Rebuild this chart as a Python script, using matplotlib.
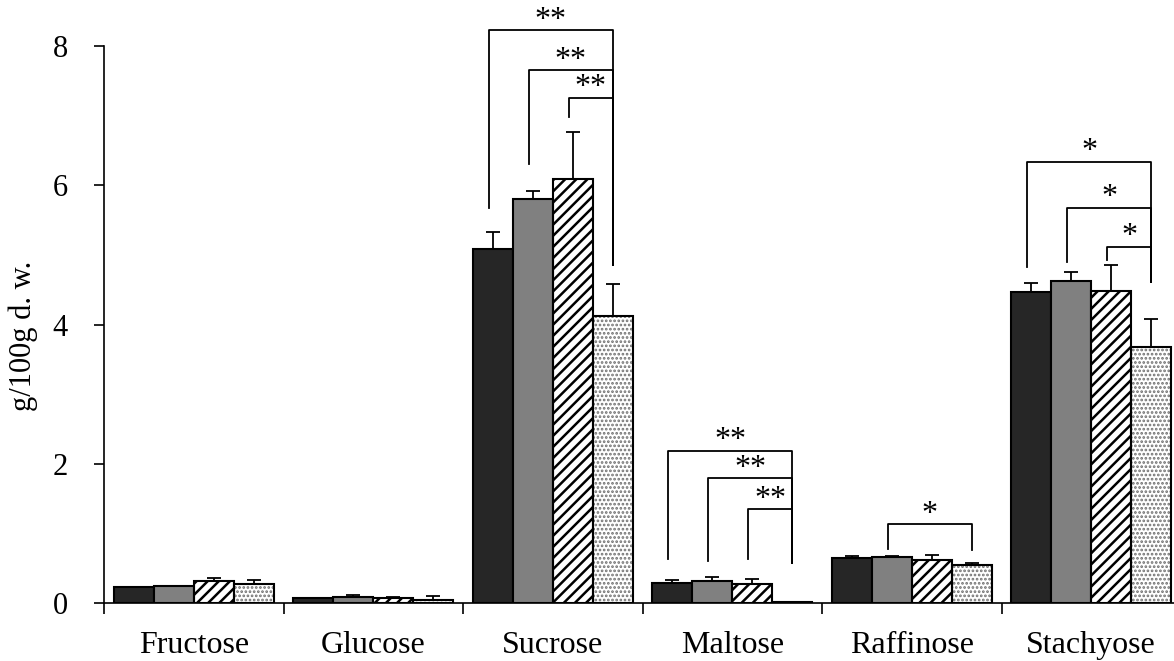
import matplotlib
matplotlib.use("Agg")
import matplotlib.pyplot as plt
import numpy as np

plt.rcParams["font.family"] = ["Liberation Serif", "DejaVu Serif"]

sugars = ["Fructose", "Glucose", "Sucrose", "Maltose", "Raffinose", "Stachyose"]

# four treatments, values in g/100g d. w.
vals_a = [0.225, 0.067, 5.08, 0.29, 0.64, 4.47]
vals_b = [0.24, 0.08, 5.80, 0.32, 0.66, 4.63]
vals_c = [0.315, 0.07, 6.09, 0.27, 0.62, 4.48]
vals_d = [0.28, 0.045, 4.12, 0.01, 0.54, 3.68]

err_a = [0.01, 0.005, 0.25, 0.04, 0.04, 0.12]
err_b = [0.01, 0.04, 0.12, 0.05, 0.01, 0.13]
err_c = [0.05, 0.01, 0.67, 0.08, 0.07, 0.37]
err_d = [0.045, 0.055, 0.46, 0.0, 0.04, 0.40]

# significance brackets: (sugar index, bar from, bar to, bracket y, left leg end, right leg end, label)
brackets = [
    (2, 0, 3, 8.23, 5.67, 4.85, "**"),
    (2, 1, 3, 7.65, 6.31, 4.85, "**"),
    (2, 2, 3, 7.26, 6.98, 4.85, "**"),
    (3, 0, 3, 2.19, 0.63, 0.57, "**"),
    (3, 1, 3, 1.80, 0.60, 0.57, "**"),
    (3, 2, 3, 1.35, 0.63, 0.57, "**"),
    (4, 1, 3, 1.14, 0.78, 0.76, "*"),
    (5, 0, 3, 6.34, 4.83, 4.61, "*"),
    (5, 1, 3, 5.68, 4.90, 4.61, "*"),
    (5, 2, 3, 5.12, 4.93, 4.61, "*"),
]

series = [vals_a, vals_b, vals_c, vals_d]
errors = [err_a, err_b, err_c, err_d]
faces = ["#262626", "#808080", "white", "white"]
hatches = [None, None, "///", "...."]
hatch_cols = [None, None, "black", "#707070"]
hatch_lw = [None, None, 1.8, 1.3]

width = 0.223
offset = 0.053
x = np.arange(len(sugars))

fig = plt.figure(figsize=(11.74, 6.61), dpi=100)
ax = fig.add_axes([104 / 1174, 58 / 661, 1 - 104 / 1174, 557 / 661])


def bar_x(k):
    return x + offset + width * (k + 0.5)


for k, (v, e) in enumerate(zip(series, errors)):
    pos = bar_x(k)
    if hatches[k]:
        with plt.rc_context({"hatch.linewidth": hatch_lw[k]}):
            bars = ax.bar(pos, v, width, color="white", edgecolor=hatch_cols[k],
                          hatch=hatches[k], linewidth=0, zorder=2)
            for b in bars:
                if hasattr(b, "set_hatch_linewidth"):
                    b.set_hatch_linewidth(hatch_lw[k])
    ax.bar(pos, v, width, color=faces[k] if not hatches[k] else "none",
           edgecolor="black", linewidth=1.5, zorder=3)
    ax.errorbar(pos, v, yerr=[np.zeros(len(e)), e], fmt="none", ecolor="black",
                elinewidth=1.3, capsize=5, capthick=1.3, zorder=4)

for cat, k0, k1, ytop, yl, yr, lab in brackets:
    x0 = bar_x(k0)[cat] - 0.02
    x1 = bar_x(k1)[cat]
    ax.plot([x0, x0, x1, x1], [yl, ytop, ytop, yr], color="black", lw=1.3,
            clip_on=False, zorder=5)
    ax.text((x0 + x1) / 2, ytop - 0.07, lab, ha="center", va="bottom",
            fontsize=23, clip_on=False)

ax.set_xlim(0, 1070 / 179.5)
ax.set_ylim(0, 8)
ax.set_yticks([0, 2, 4, 6, 8])
ax.tick_params(axis="y", labelsize=22, length=7, width=1.2, pad=19, direction="out")
ax.set_xticks(np.arange(0, 6))
ax.set_xticklabels([])
ax.set_xticks(x + 0.5, minor=True)
ax.set_xticklabels(sugars, minor=True)
ax.tick_params(axis="x", which="major", length=8, width=1.2, direction="out")
ax.tick_params(axis="x", which="minor", length=0, labelsize=23, pad=20)

for s in ["top", "right"]:
    ax.spines[s].set_visible(False)
ax.spines["left"].set_linewidth(1.2)
ax.spines["bottom"].set_linewidth(1.2)

ax.set_ylabel("g/100g d. w.", fontsize=22)
ax.yaxis.set_label_coords(-0.0617, 0.48)

fig.savefig("out.png", dpi=100)
